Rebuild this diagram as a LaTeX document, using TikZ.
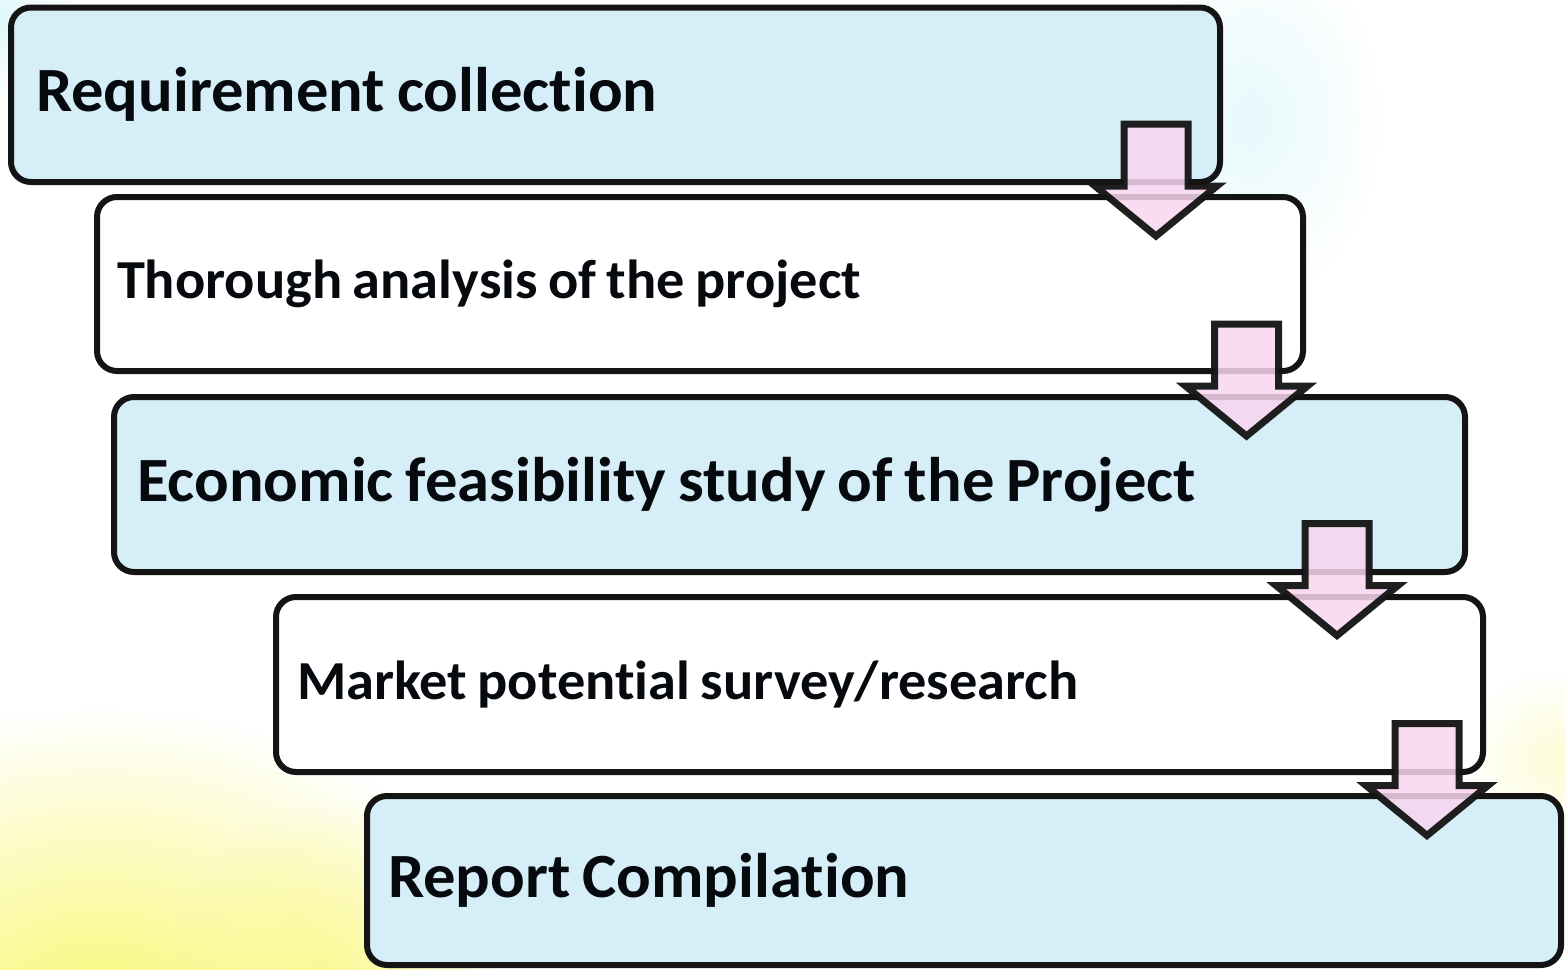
\documentclass[tikz,border=0pt]{standalone}
\usepackage{fontspec}
\setmainfont[Ligatures=CommonOff, FakeStretch=1.025]{Carlito}
\usetikzlibrary{fadings}
\tikzfading[name=glowfade, inner color=transparent!0, outer color=transparent!100]
\newcommand{\tightwords}{\spaceskip=0.19em\relax}
\definecolor{boxblue}{RGB}{214,238,248}
\definecolor{arrowpink}{RGB}{248,214,240}
\definecolor{textc}{RGB}{6,10,14}
\definecolor{outl}{RGB}{20,20,20}
\definecolor{glowy}{RGB}{250,248,120}
\definecolor{glowc}{RGB}{215,246,250}
\tikzset{
  stepbox/.style={draw=outl, line width=3pt, rounded corners=10pt, inner sep=0pt,
    align=left, text=textc, font=\bfseries},
  bluebox/.style={stepbox, fill=boxblue},
  whitebox/.style={stepbox, fill=white},
  bigtext/.style={font=\bfseries\fontsize{31.5}{36}\selectfont},
  smalltext/.style={font=\bfseries\fontsize{27.5}{32}\selectfont},
  glow/.style={path fading=glowfade},
  arrowsty/.style={fill=arrowpink, fill opacity=0.85, draw=outl, draw opacity=0.95,
    line width=3.5pt, line join=miter},
  pics/downarrow/.style={code={
    \draw[arrowsty] (-32,0) -- (32,0) -- (32,62) -- (61,62) -- (0,112)
      -- (-61,62) -- (-32,62) -- cycle;}}
}
\begin{document}
\begin{tikzpicture}[x=0.5pt,y=-0.5pt]
\useasboundingbox (0,0) rectangle (1565,970);
% background glow
\begin{scope}
  \clip (0,0) rectangle (1565,970);
  \fill[white] (0,0) rectangle (1565,970);
  \fill[glowy, glow] (100,1010) ellipse [x radius=420, y radius=300];
  \fill[glowy, glow, opacity=0.6] (330,980) ellipse [x radius=160, y radius=180];
  \fill[glowy, glow, opacity=0.3] (1560,760) ellipse [x radius=100, y radius=90];
  \fill[glowc, glow, opacity=0.6] (1250,120) ellipse [x radius=130, y radius=180];
  \fill[glowc, glow, opacity=0.8] (0,20) ellipse [x radius=80, y radius=80];
\end{scope}
% boxes
\node[bluebox, bigtext, minimum width=604.5pt, minimum height=87.25pt, text width=579.5pt]
  (b1) at (615.5,94.75) {\tightwords Requirement collection};
\node[whitebox, smalltext, minimum width=603pt, minimum height=87pt, text width=583pt]
  (b2) at (700,284) {\tightwords Thorough analysis of the project};
\node[bluebox, bigtext, minimum width=675.5pt, minimum height=87.5pt, text width=652.5pt]
  (b3) at (789.5,484.5) {\tightwords Economic feasibility study of the Project};
\node[whitebox, smalltext, minimum width=603.5pt, minimum height=87.5pt, text width=582.5pt]
  (b4) at (879.5,684.5) {\tightwords Market potential survey/research};
\node[bluebox, bigtext, minimum width=597pt, minimum height=84.5pt, text width=576pt]
  (b5) at (964,880.5) {\tightwords Report Compilation};
% arrows
\coordinate (a1) at (1156,124);
\coordinate (a2) at (1246.5,324);
\coordinate (a3) at (1337,523.5);
\coordinate (a4) at (1427,723.5);
\pic at (a1) {downarrow};
\pic at (a2) {downarrow};
\pic at (a3) {downarrow};
\pic at (a4) {downarrow};
\end{tikzpicture}
\end{document}
